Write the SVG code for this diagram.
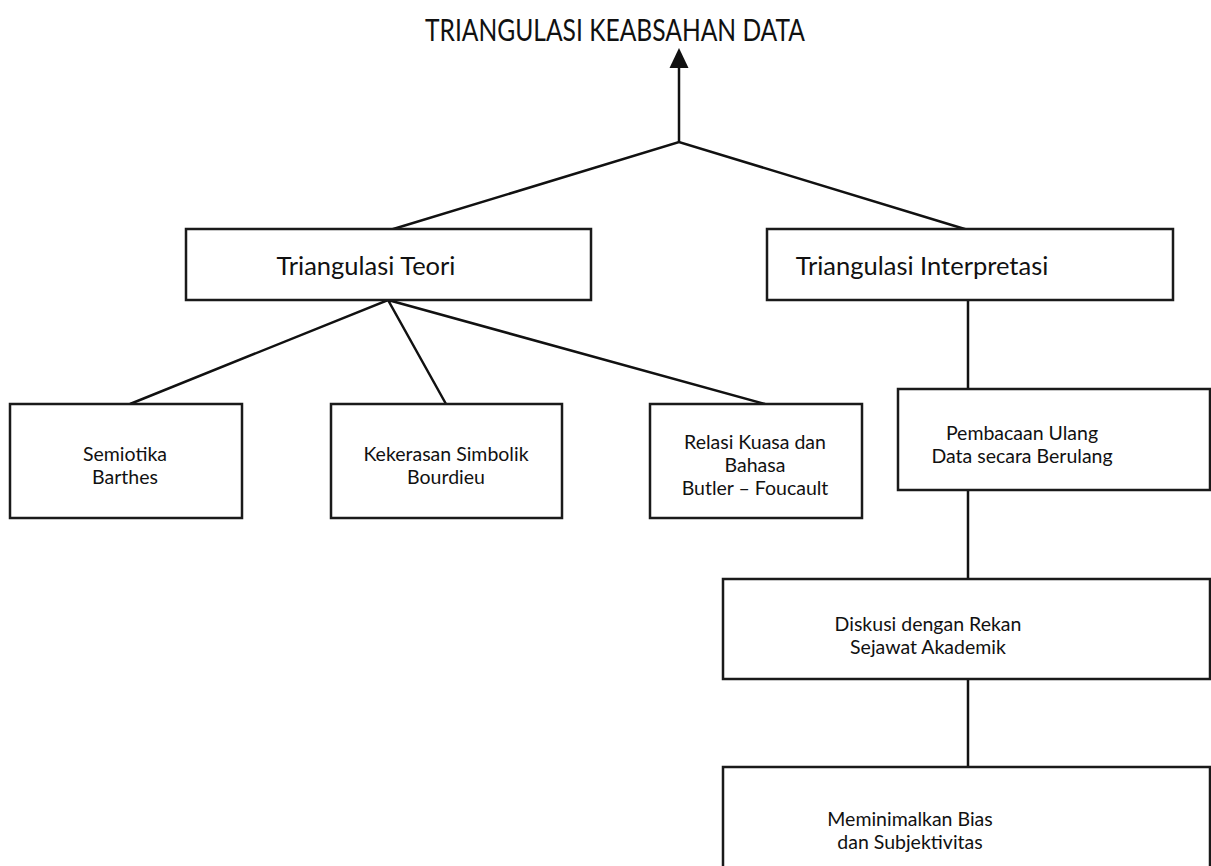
<svg xmlns="http://www.w3.org/2000/svg" width="1211" height="866" viewBox="0 0 1211 866">
<style>
.box{fill:#fff;stroke:#1a1a1a;stroke-width:2.5}
.ln{fill:none;stroke:#111;stroke-width:2.5}
text{font-family:Lato,"Open Sans","Liberation Sans",sans-serif;fill:#111;text-anchor:middle}
.t{font-size:31px}
.m{font-size:25.5px}
.s{font-size:19.5px}
</style>
<rect width="1211" height="866" fill="#fff"/>
<g id="title"><text class="t" x="615" y="41" textLength="380" lengthAdjust="spacingAndGlyphs">TRIANGULASI KEABSAHAN DATA</text></g>
<g id="connectors">
<path class="ln" d="M679,142 V66"/>
<path d="M679,48 L688.5,68 L669.5,68 Z" fill="#111"/>
<path class="ln" d="M390,230 L679,142 L968,230"/>
<path class="ln" d="M130,404 L388,300 L446,404 M388,300 L765,404"/>
<path class="ln" d="M968,300 V389 M968,490 V579 M968,679 V767"/>
</g>
<g id="n-teori"><rect class="box" x="186" y="229" width="405" height="71"/><text class="m" x="366" y="275">Triangulasi Teori</text></g>
<g id="n-interp"><rect class="box" x="767" y="229" width="406" height="71"/><text class="m" x="922" y="275">Triangulasi Interpretasi</text></g>
<g id="n-semiotika"><rect class="box" x="10" y="404" width="232" height="114"/><text class="s" x="125" y="461">Semiotika</text><text class="s" x="125" y="484">Barthes</text></g>
<g id="n-kekerasan"><rect class="box" x="331" y="404" width="231" height="114"/><text class="s" x="446" y="461">Kekerasan Simbolik</text><text class="s" x="446" y="484">Bourdieu</text></g>
<g id="n-relasi"><rect class="box" x="650" y="404" width="212" height="114"/><text class="s" x="755" y="449">Relasi Kuasa dan</text><text class="s" x="755" y="472">Bahasa</text><text class="s" x="755" y="495">Butler – Foucault</text></g>
<g id="n-pembacaan"><rect class="box" x="898" y="389" width="312" height="101"/><text class="s" x="1022" y="440">Pembacaan Ulang</text><text class="s" x="1022" y="463">Data secara Berulang</text></g>
<g id="n-diskusi"><rect class="box" x="723" y="579" width="487" height="100"/><text class="s" x="928" y="631">Diskusi dengan Rekan</text><text class="s" x="928" y="654">Sejawat Akademik</text></g>
<g id="n-meminimalkan"><rect class="box" x="723" y="767" width="487" height="110"/><text class="s" x="910" y="826">Meminimalkan Bias</text><text class="s" x="910" y="849">dan Subjektivitas</text></g>
</svg>
